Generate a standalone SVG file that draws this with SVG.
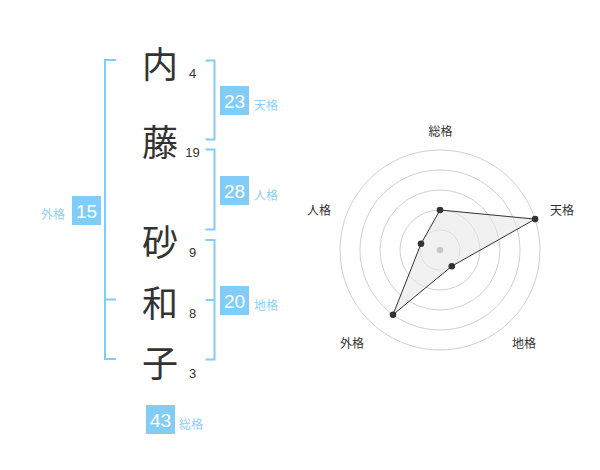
<svg xmlns="http://www.w3.org/2000/svg" width="600" height="470" viewBox="0 0 600 470">
<style>
.ch{font-family:"Noto Sans CJK JP","Noto Sans CJK SC",sans-serif;font-size:36px;fill:#333;text-anchor:middle;dominant-baseline:central}
.num{font-family:"Liberation Sans",Arial,sans-serif;font-size:13px;fill:#333;text-anchor:middle;dominant-baseline:central}
.br{fill:none;stroke:#82ccf8;stroke-width:2}
.badge{fill:#82ccf8}
.bt{font-family:"Liberation Sans",Arial,sans-serif;font-size:19px;fill:#fff;text-anchor:middle;dominant-baseline:central}
.lb{font-family:"Noto Sans CJK JP","Noto Sans CJK SC",sans-serif;font-size:12px;fill:#8fd0f6;dominant-baseline:central}
.ring{fill:none;stroke:#d0d0d0;stroke-width:1}
.rl{font-family:"Noto Sans CJK JP","Noto Sans CJK SC",sans-serif;font-size:12px;fill:#333;text-anchor:middle;dominant-baseline:central}
.pt{fill:#333}
</style>
<rect width="600" height="470" fill="#fff"/>
<g id="chars">
<g id="c1"><text class="ch" x="160" y="62">内</text><text class="num" x="192.5" y="73">4</text></g>
<g id="c2"><text class="ch" x="160" y="140">藤</text><text class="num" x="192.5" y="152.5">19</text></g>
<g id="c3"><text class="ch" x="160" y="240">砂</text><text class="num" x="192.5" y="252">9</text></g>
<g id="c4"><text class="ch" x="160" y="301">和</text><text class="num" x="192.5" y="313">8</text></g>
<g id="c5"><text class="ch" x="160" y="361">子</text><text class="num" x="192.5" y="373">3</text></g>
</g>
<g id="connectors">
<path class="br" d="M116,60 H105 V359 H116 M105,299.5 H116"/>
<path class="br" d="M205.5,60.5 H214.5 V139.5 H205.5"/>
<path class="br" d="M205.5,149.5 H214.5 V229.5 H205.5"/>
<path class="br" d="M205.5,240 H214.5 V359.5 H205.5 M205.5,300 H214.5"/>
</g>
<g id="tenkaku"><rect class="badge" x="220" y="86" width="29" height="29"/><text class="bt" x="234.5" y="101">23</text><text class="lb" x="254" y="104">天格</text></g>
<g id="jinkaku"><rect class="badge" x="220" y="176" width="29" height="29"/><text class="bt" x="234.5" y="191">28</text><text class="lb" x="254" y="194">人格</text></g>
<g id="gaikaku"><rect class="badge" x="72" y="196" width="29" height="29"/><text class="bt" x="86.5" y="211">15</text><text class="lb" x="41" y="213.5">外格</text></g>
<g id="chikaku"><rect class="badge" x="220" y="286" width="29" height="29"/><text class="bt" x="234.5" y="301">20</text><text class="lb" x="254" y="304">地格</text></g>
<g id="soukaku"><rect class="badge" x="146" y="405" width="29" height="29"/><text class="bt" x="160.5" y="420">43</text><text class="lb" x="179" y="423">総格</text></g>
<g id="radar">
<circle class="ring" cx="440" cy="250" r="20"/>
<circle class="ring" cx="440" cy="250" r="40"/>
<circle class="ring" cx="440" cy="250" r="60"/>
<circle class="ring" cx="440" cy="250" r="80"/>
<circle class="ring" cx="440" cy="250" r="100"/>
<polygon points="440,210 535.1,219.1 451.8,266.2 393,314.7 421,243.8" fill="#e8e8e8" fill-opacity="0.6" stroke="#333" stroke-width="1"/>
<circle cx="440" cy="250" r="3.3" fill="#c8c8c8"/>
<circle class="pt" cx="440" cy="210" r="3.3"/>
<circle class="pt" cx="535.1" cy="219.1" r="3.3"/>
<circle class="pt" cx="451.8" cy="266.2" r="3.3"/>
<circle class="pt" cx="393" cy="314.7" r="3.3"/>
<circle class="pt" cx="421" cy="243.8" r="3.3"/>
<text class="rl" x="440.5" y="130.5">総格</text>
<text class="rl" x="562" y="209">天格</text>
<text class="rl" x="524" y="342">地格</text>
<text class="rl" x="352" y="342">外格</text>
<text class="rl" x="319" y="209">人格</text>
</g>
</svg>
